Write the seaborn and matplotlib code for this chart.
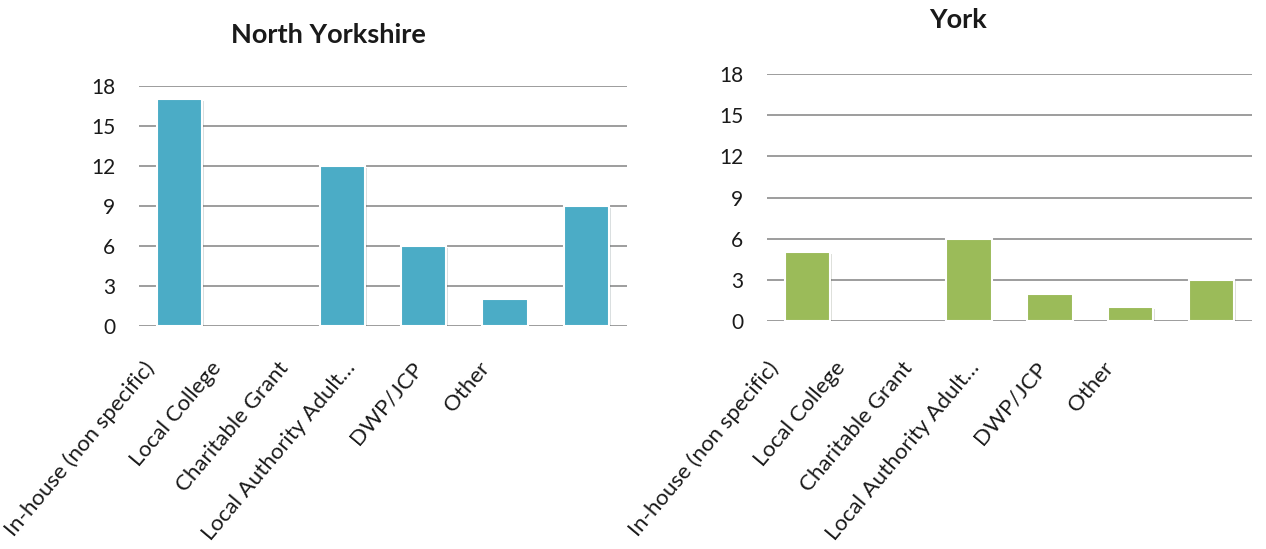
import matplotlib
matplotlib.use("Agg")
import matplotlib.pyplot as plt
import matplotlib.patheffects as pe
import seaborn as sns
import pandas as pd

categories = ["In-house (non specific)", "Local College", "Charitable Grant",
              "Local Authority Adult…", "DWP/JCP", "Other"]
north_yorkshire = [17, 0, 12, 6, 2, 9]
york = [5, 0, 6, 2, 1, 3]
y_ticks = [0, 3, 6, 9, 12, 15, 18]

sns.set_theme(style="white")
plt.rcParams['font.family'] = ['Lato', 'DejaVu Sans']

W, H = 1266, 549
fig = plt.figure(figsize=(W / 100, H / 100), dpi=100)
ax1 = fig.add_axes([139 / W, 1 - 326 / H, 488 / W, 240 / H])
ax2 = fig.add_axes([767 / W, 1 - 321 / H, 485 / W, 247 / H])

TXT = "#1a1a1a"

def draw(ax, values, color, lab_x0, lab_y):
    df = pd.DataFrame({"cat": categories, "val": values})
    sns.barplot(data=df, x="cat", y="val", color=color, width=0.56, ax=ax,
                saturation=1, zorder=3)
    for p in ax.patches:
        if p.get_height() == 0:
            p.set_visible(False)
            continue
        p.set_edgecolor("white")
        p.set_linewidth(1.5)
        p.set_path_effects([pe.SimplePatchShadow(offset=(1.2, -1.2), alpha=0.16), pe.Normal()])
    ax.set_ylim(0, 18)
    ax.set_yticks(y_ticks)
    ax.set_xlim(-0.5, len(categories) - 0.5)
    ax.yaxis.grid(True, color="#8c8c8c", linewidth=1.2, zorder=0)
    ax.set_axisbelow(True)
    for s in ax.spines.values():
        s.set_visible(False)
    ax.set_xlabel("")
    ax.set_ylabel("")
    ax.tick_params(axis="y", length=0, pad=17, labelsize=15, labelcolor=TXT)
    ax.tick_params(axis="x", length=0, labelbottom=False)
    # rotated category labels (placed like the original's compressed label row)
    for i, c in enumerate(categories):
        fig.text((lab_x0 + 67 * i) / W, 1 - lab_y / H, c, rotation=50,
                 ha="right", va="top", rotation_mode="anchor",
                 fontsize=16, color=TXT)

draw(ax1, north_yorkshire, "#4bacc6", 143, 358)
draw(ax2, york, "#9bbb59", 767, 358)

fig.text(328 / W, 1 - 35 / H, "North Yorkshire", ha="center", va="center",
         fontsize=19.5, fontweight="bold", color=TXT)
fig.text(958 / W, 1 - 20 / H, "York", ha="center", va="center",
         fontsize=19.5, fontweight="bold", color=TXT)

fig.savefig("out.png", dpi=100, facecolor="white")
